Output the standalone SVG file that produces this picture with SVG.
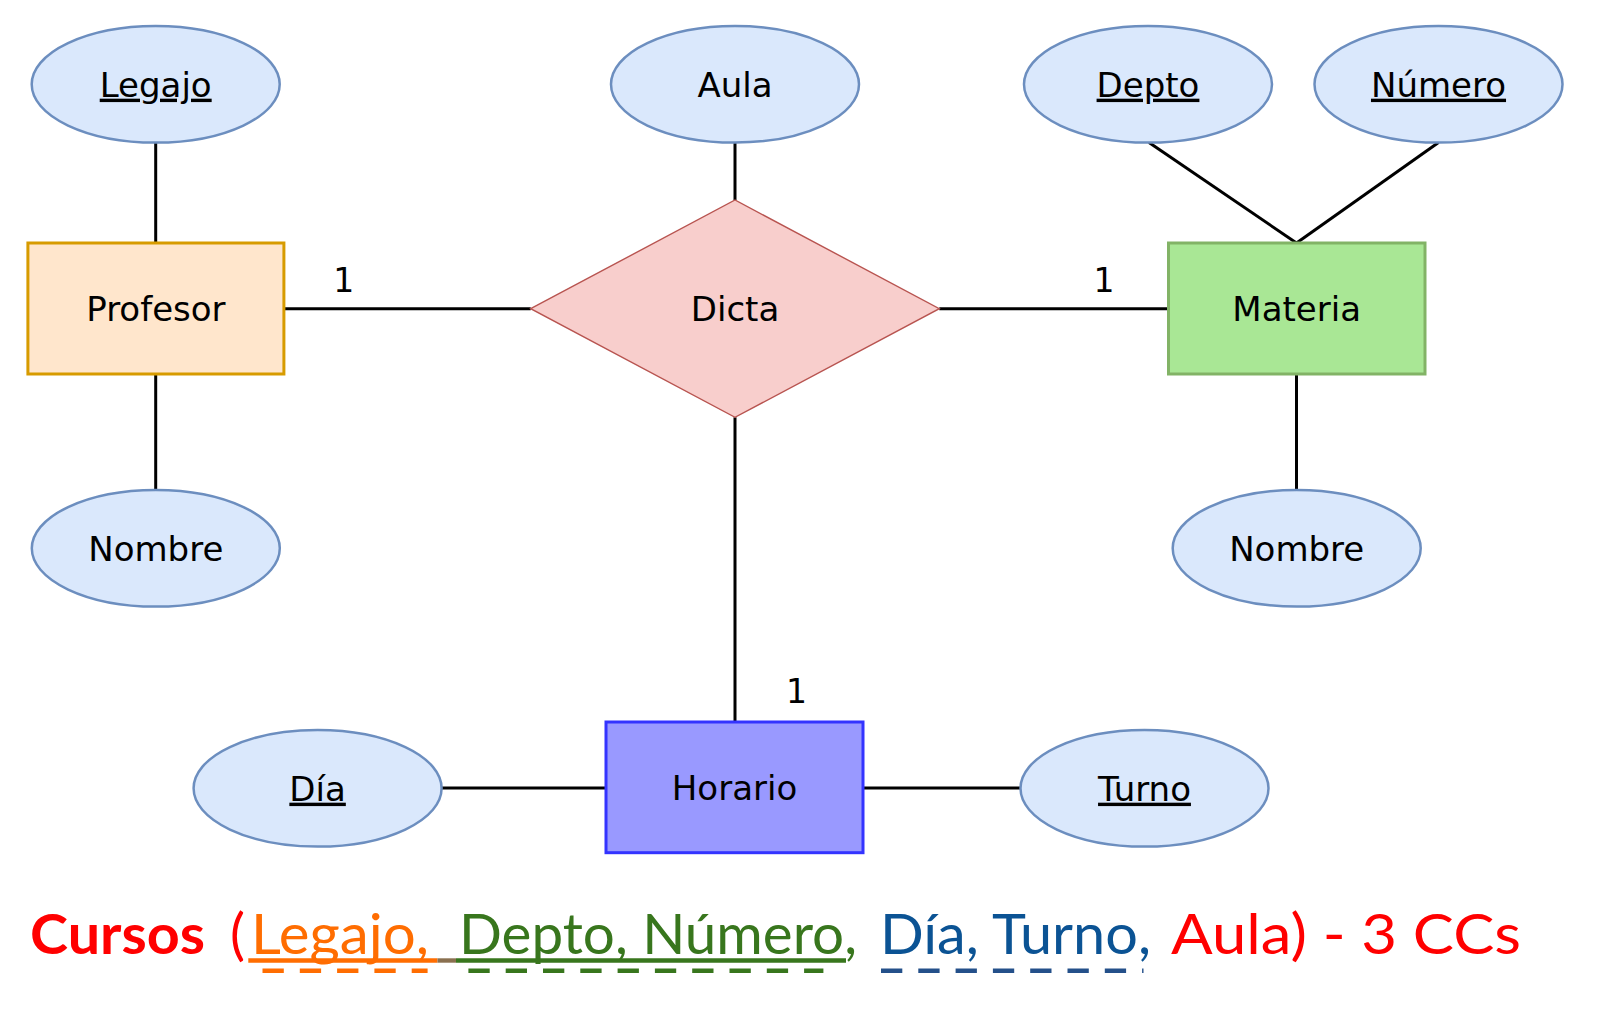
<svg xmlns="http://www.w3.org/2000/svg" width="1603" height="1012" viewBox="0 0 1603 1012">
<style>
.attr{fill:#dae8fc;stroke:#6c8ebf;stroke-width:2.5}
.lbl{font-family:"DejaVu Sans",Verdana,sans-serif;font-size:34px;fill:#000;text-anchor:middle}
.key{text-decoration:underline}
.conn line{stroke:#000;stroke-width:3}
.card{font-family:"DejaVu Sans",Verdana,sans-serif;font-size:33px;fill:#000;text-anchor:middle}
.foot{font-family:"Lato","Liberation Sans",sans-serif;font-size:56px}
.dash{stroke-width:4.6;stroke-dasharray:21.3 16}
</style>
<rect width="1603" height="1012" fill="#fff"/>
<g class="conn" id="connectors">
<line x1="155.7" y1="142.5" x2="155.7" y2="243"/>
<line x1="155.7" y1="374" x2="155.7" y2="490"/>
<line x1="283.5" y1="308.7" x2="530.7" y2="308.7"/>
<line x1="735" y1="142.5" x2="735" y2="200"/>
<line x1="939.3" y1="308.7" x2="1168" y2="308.7"/>
<line x1="735" y1="417.3" x2="735" y2="722"/>
<line x1="1149" y1="142.5" x2="1296.5" y2="243"/>
<line x1="1438.5" y1="142.5" x2="1296.5" y2="243"/>
<line x1="1296.5" y1="374" x2="1296.5" y2="490"/>
<line x1="442" y1="788" x2="606" y2="788"/>
<line x1="863" y1="788" x2="1020.5" y2="788"/>
</g>
<g id="cardinalities">
<text class="card" x="343.7" y="291.7">1</text>
<text class="card" x="1104" y="291.7">1</text>
<text class="card" x="796.5" y="703">1</text>
</g>
<g id="legajo"><ellipse class="attr" cx="155.7" cy="84.3" rx="124" ry="58.3"/><text class="lbl key" x="155.7" y="96.7">Legajo</text></g>
<g id="aula"><ellipse class="attr" cx="735" cy="84.3" rx="124" ry="58.3"/><text class="lbl" x="735" y="96.7">Aula</text></g>
<g id="depto"><ellipse class="attr" cx="1148" cy="84.3" rx="124" ry="58.3"/><text class="lbl key" x="1148" y="96.7">Depto</text></g>
<g id="numero"><ellipse class="attr" cx="1438.5" cy="84.3" rx="124" ry="58.3"/><text class="lbl key" x="1438.5" y="96.7">Número</text></g>
<g id="profesor"><rect x="27.9" y="243" width="256" height="131" fill="#ffe6cc" stroke="#d79b00" stroke-width="3"/><text class="lbl" x="155.9" y="321">Profesor</text></g>
<g id="dicta"><polygon points="530.7,308.7 735,200 939.3,308.7 735,417.3" fill="#f8cecc" stroke="#b85450" stroke-width="1.4"/><text class="lbl" x="735" y="321">Dicta</text></g>
<g id="materia"><rect x="1168.5" y="243" width="256.5" height="131" fill="#a9e795" stroke="#82b366" stroke-width="3"/><text class="lbl" x="1296.7" y="321">Materia</text></g>
<g id="nombre-profesor"><ellipse class="attr" cx="155.8" cy="548.3" rx="124" ry="58.3"/><text class="lbl" x="155.8" y="560.7">Nombre</text></g>
<g id="nombre-materia"><ellipse class="attr" cx="1296.7" cy="548.3" rx="124" ry="58.3"/><text class="lbl" x="1296.7" y="560.7">Nombre</text></g>
<g id="horario"><rect x="606" y="722" width="257" height="130.7" fill="#9999ff" stroke="#3333ff" stroke-width="3"/><text class="lbl" x="734.5" y="800">Horario</text></g>
<g id="dia"><ellipse class="attr" cx="317.6" cy="788.3" rx="124" ry="58.3"/><text class="lbl key" x="317.6" y="800.7">Día</text></g>
<g id="turno"><ellipse class="attr" cx="1144.5" cy="788.3" rx="124" ry="58.3"/><text class="lbl key" x="1144.5" y="800.7">Turno</text></g>
<g id="footer">
<text class="foot" x="30" y="953.5" fill="#ff0000" font-weight="bold" textLength="175" lengthAdjust="spacingAndGlyphs">Cursos</text>
<text class="foot" x="230" y="953.5" fill="#ff0000" textLength="15" lengthAdjust="spacingAndGlyphs">(</text>
<text class="foot" x="251" y="953.5" fill="#ff6d01" textLength="178" lengthAdjust="spacingAndGlyphs">Legajo,</text>
<text class="foot" x="459" y="953.5" fill="#38761d" textLength="398" lengthAdjust="spacingAndGlyphs">Depto, Número,</text>
<text class="foot" x="880" y="953.5" fill="#0b5394" textLength="271" lengthAdjust="spacingAndGlyphs">Día, Turno,</text>
<text class="foot" x="1171" y="953.5" fill="#ff0000" textLength="350" lengthAdjust="spacingAndGlyphs">Aula) - 3 CCs</text>
<line x1="248.3" y1="960.5" x2="437.5" y2="960.5" stroke="#ff6d01" stroke-width="4.4"/>
<line x1="437.5" y1="960.5" x2="456" y2="960.5" stroke="#8a7050" stroke-width="4.4"/>
<line x1="456" y1="960.5" x2="846" y2="960.5" stroke="#38761d" stroke-width="4.4"/>
<line class="dash" x1="262.5" y1="970.7" x2="427.6" y2="970.7" stroke="#ff6d01"/>
<line class="dash" x1="468.4" y1="970.7" x2="823.4" y2="970.7" stroke="#38761d"/>
<line class="dash" x1="881" y1="970.7" x2="1143.5" y2="970.7" stroke="#24508a"/>
</g>
</svg>
